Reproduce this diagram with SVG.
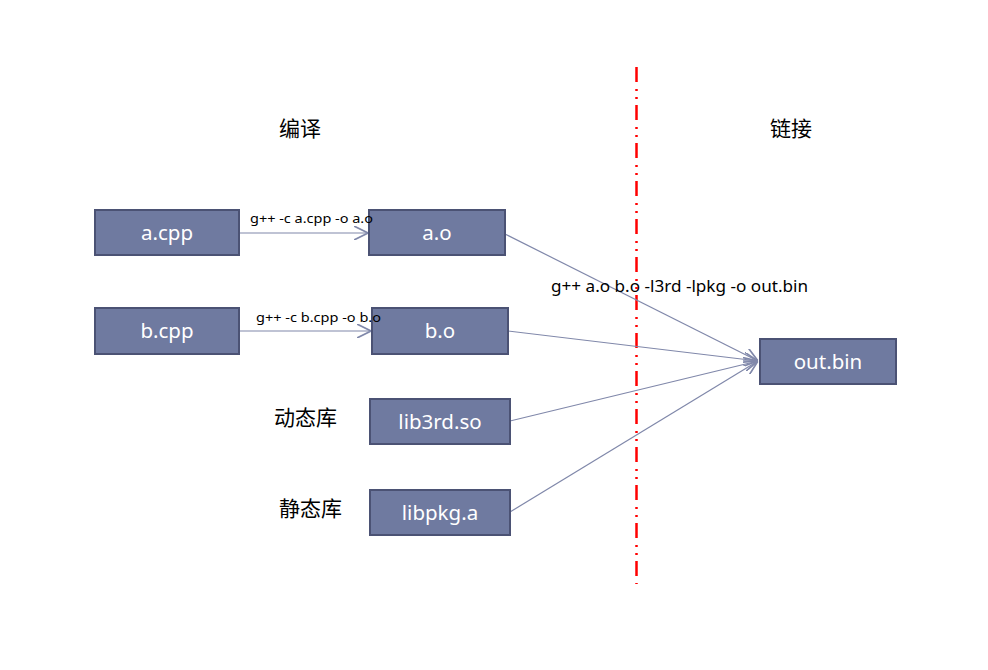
<svg xmlns="http://www.w3.org/2000/svg" width="988" height="670" viewBox="0 0 988 670">
<defs>
<style>
.box{fill:#6F7AA0;stroke:#4B5274;stroke-width:2}
.bt{fill:#fff;font-family:"Noto Sans","Noto Sans CJK SC",sans-serif;font-size:20.5px;text-anchor:middle}
.lbl{fill:#000;font-family:"Noto Sans","Noto Sans CJK SC",sans-serif}
.cn{fill:#000;font-family:"Noto Sans CJK SC",sans-serif;font-size:21px}
.edge{stroke:#8088AA;stroke-width:1.2;fill:none;marker-end:url(#arr)}
</style>
<marker id="arr" viewBox="0 0 10 10" refX="10" refY="5" markerWidth="14" markerHeight="14" markerUnits="userSpaceOnUse" orient="auto">
<path d="M0,0 L10,5 L0,10" fill="none" stroke="#8088AA" stroke-width="1.2"/>
</marker>
</defs>
<rect width="988" height="670" fill="#fff"/>
<line x1="636.5" y1="67" x2="636.5" y2="584" stroke="#FF0000" stroke-width="2.5" stroke-dasharray="15 7 2 6 2 6"/>
<g id="connectors">
<line class="edge" x1="239" y1="233" x2="368" y2="233"/>
<line class="edge" x1="239" y1="331" x2="371" y2="331"/>
<line class="edge" x1="505" y1="234" x2="758" y2="361"/>
<line class="edge" x1="508" y1="331" x2="758" y2="361"/>
<line class="edge" x1="510" y1="421" x2="758" y2="361"/>
<line class="edge" x1="510" y1="512" x2="758" y2="361"/>
</g>
<g id="n-acpp"><rect class="box" x="95" y="210" width="144" height="45"/><text class="bt" x="167" y="240">a.cpp</text></g>
<g id="n-ao"><rect class="box" x="369" y="210" width="136" height="45"/><text class="bt" x="437" y="240">a.o</text></g>
<g id="n-bcpp"><rect class="box" x="95" y="308" width="144" height="46"/><text class="bt" x="167" y="338">b.cpp</text></g>
<g id="n-bo"><rect class="box" x="372" y="308" width="136" height="46"/><text class="bt" x="440" y="338">b.o</text></g>
<g id="n-lib3rd"><rect class="box" x="370" y="399" width="140" height="45"/><text class="bt" x="440" y="429">lib3rd.so</text></g>
<g id="n-libpkg"><rect class="box" x="370" y="490" width="140" height="45"/><text class="bt" x="440" y="520">libpkg.a</text></g>
<g id="n-outbin"><rect class="box" x="760" y="339" width="136" height="45"/><text class="bt" x="828" y="369">out.bin</text></g>
<g id="labels">
<text class="lbl" x="250" y="223" font-size="13" textLength="123" lengthAdjust="spacingAndGlyphs">g++ -c a.cpp -o a.o</text>
<text class="lbl" x="256" y="322" font-size="13" textLength="125" lengthAdjust="spacingAndGlyphs">g++ -c b.cpp -o b.o</text>
<text class="lbl" x="551" y="292" font-size="16.5" textLength="257" lengthAdjust="spacingAndGlyphs">g++ a.o b.o -l3rd -lpkg -o out.bin</text>
<text class="cn" x="279" y="136">编译</text>
<text class="cn" x="770" y="136">链接</text>
<text class="cn" x="274" y="425">动态库</text>
<text class="cn" x="279" y="516">静态库</text>
</g>
</svg>
